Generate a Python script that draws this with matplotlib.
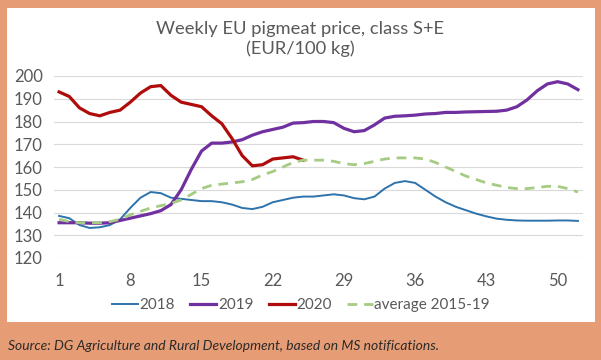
import numpy as np
import matplotlib.pyplot as plt
from matplotlib.patches import Rectangle

plt.rcParams['font.family'] = ['Lato', 'DejaVu Sans']

weeks = np.arange(1, 53)

p2018 = [138.5, 137.5, 134.5, 133.2, 133.5, 134.5, 137, 142, 146.5, 149, 148.5, 146.5, 146,
         145.5, 145, 145, 144.5, 143.5, 142, 141.5, 142.5, 144.5, 145.5, 146.5, 147, 147,
         147.5, 148, 147.5, 146.3, 145.8, 147, 150.5, 153, 153.8, 153, 150, 147, 144.5,
         142.5, 141, 139.5, 138.3, 137.3, 136.8, 136.5, 136.4, 136.4, 136.4, 136.5, 136.5, 136.3]
p2019 = [135.5, 135.5, 135.5, 135.3, 135.3, 135.5, 136.5, 137.5, 138.5, 139.5, 140.8, 143.5,
         150, 159, 167, 170.5, 170.5, 171, 172, 174, 175.5, 176.5, 177.5, 179.3, 179.5, 180,
         180, 179.5, 177, 175.5, 176, 178.5, 181.5, 182.3, 182.5, 182.8, 183.3, 183.5, 184,
         184, 184.2, 184.3, 184.4, 184.5, 185, 186.5, 189.5, 193.5, 196.5, 197.5, 196.5, 194]
p2020 = [193, 191, 186, 183.5, 182.5, 184, 185, 188.5, 192.5, 195.3, 195.8, 191.5, 188.5,
         187.5, 186.5, 182.5, 179, 172.5, 165, 160.5, 161, 163.5, 164, 164.5, 163]
avg1519 = [137, 136, 135.5, 135.5, 135.5, 136, 137, 139, 140.5, 142, 143, 144, 145.5, 148,
           150.5, 152, 152.5, 153, 153.5, 154.5, 156.5, 158, 160, 162, 163, 163, 163, 162.5,
           161.5, 161, 161.5, 162.5, 163.5, 164, 164, 164, 163.5, 162, 160, 158, 156, 154.5,
           153, 152, 151, 150.5, 150.5, 151, 151.5, 151.5, 150.5, 149]

orange = '#E69C74'
grey = '#595959'

fig = plt.figure(figsize=(6.01, 3.60), dpi=100, facecolor=orange)
fig.patches.append(Rectangle((7 / 601, 1 - 322 / 360), 588 / 601, 314 / 360,
                             transform=fig.transFigure, facecolor='white',
                             edgecolor='none', zorder=0))

ax = fig.add_axes([54 / 601, 1 - 258 / 360, 529 / 601, 182 / 360])
ax.set_facecolor('none')
ax.set_zorder(2)

ax.plot(weeks, p2018, color='#2E72AC', lw=1.4, label='2018', solid_joinstyle='round')
ax.plot(weeks, p2019, color='#7030A0', lw=2.3, label='2019', solid_joinstyle='round')
ax.plot(weeks[:len(p2020)], p2020, color='#B00C0C', lw=2.3, label='2020',
        solid_joinstyle='round')
ax.plot(weeks, avg1519, color='#A5CC82', lw=2.0, ls=(0, (3.5, 2.5)),
        label='average 2015-19')

ax.set_xlim(0.5, 52.5)
ax.set_ylim(120, 200)
ax.set_yticks(np.arange(120, 201, 10))
ax.set_xticks([1, 8, 15, 22, 29, 36, 43, 50])
ax.grid(axis='y', color='#D9D9D9', lw=0.8)
ax.set_axisbelow(True)
for s in ax.spines.values():
    s.set_visible(False)
ax.tick_params(length=0, labelsize=12, colors=grey, pad=8)
ax.tick_params(axis='x', pad=11)

fig.text(0.5, 1 - 39 / 360, 'Weekly EU pigmeat price, class S+E\n(EUR/100 kg)',
         ha='center', va='center', fontsize=13.2, color=grey, linespacing=1.25,
         zorder=3)

leg = fig.legend(loc='center', bbox_to_anchor=(301 / 601, 1 - 305 / 360), ncol=4,
                 frameon=False, fontsize=11, handlelength=1.7, handletextpad=0.1,
                 columnspacing=1.0, labelcolor=grey)
leg.set_zorder(3)

fig.text(8 / 601, 1 - 346 / 360,
         'Source: DG Agriculture and Rural Development, based on MS notifications.',
         ha='left', va='center', fontsize=10, style='italic', color='#2B2B2B')

fig.savefig('out.png', dpi=100, facecolor=orange)
